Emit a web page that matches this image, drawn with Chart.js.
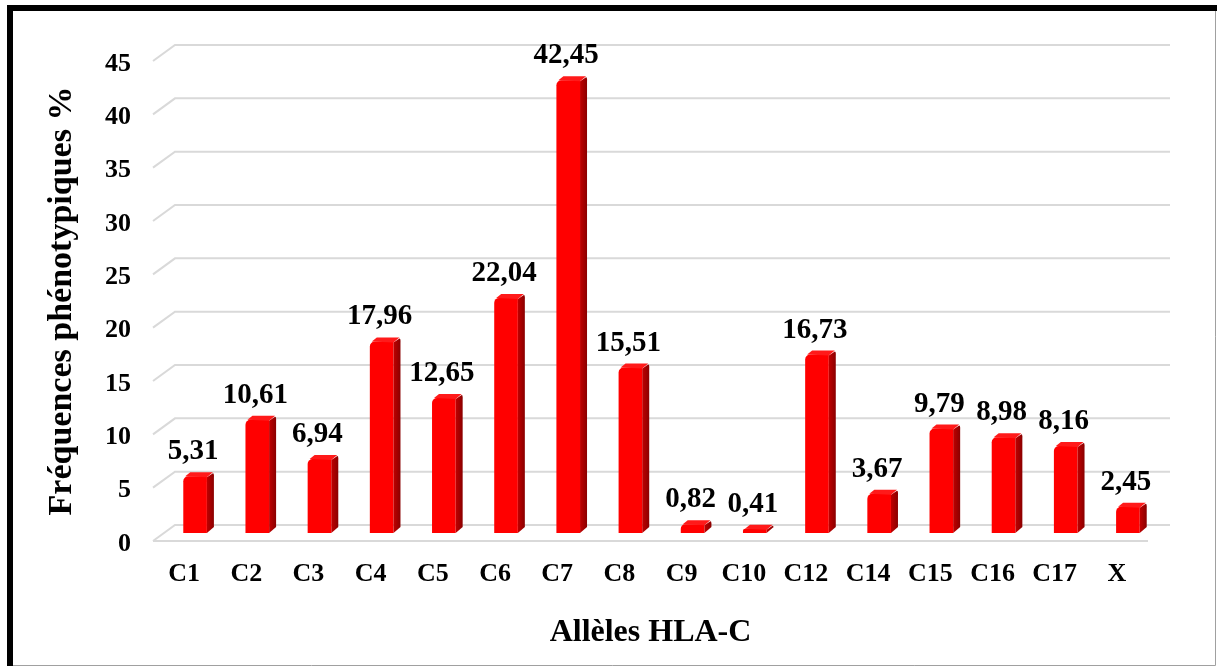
<!DOCTYPE html>
<html>
<head>
<meta charset="utf-8">
<script src="https://cdn.jsdelivr.net/npm/chart.js@4.4.0/dist/chart.umd.min.js"></script>
<style>
    html, body { margin: 0; padding: 0; background: #ffffff; }
    #chart { display: block; }
</style>
</head>
<body>
<canvas id="chart" width="1217" height="668"></canvas>
<script>
// data
const alleles = ["C1", "C2", "C3", "C4", "C5", "C6", "C7", "C8", "C9", "C10", "C12", "C14", "C15", "C16", "C17", "X"];
const frequences = [5.31, 10.61, 6.94, 17.96, 12.65, 22.04, 42.45, 15.51, 0.82, 0.41, 16.73, 3.67, 9.79, 8.98, 8.16, 2.45];
const yTicks = [0, 5, 10, 15, 20, 25, 30, 35, 40, 45];

const FONT = "'Liberation Serif', 'Times New Roman', serif";

// 3D look: back wall is shifted from the front plane
const DEPTH_X = 22, DEPTH_Y = -16;
const BAR_DX = 11, BAR_DY = -8;     // bars stand in the middle
const SIDE_X = 7, SIDE_Y = -4;      // thickness of each bar

// frame, white background, 3D grid
const backdrop = {
    id: "backdrop",
    beforeDraw(chart) {
        let ctx = chart.ctx;
        ctx.save();
        ctx.fillStyle = "#ffffff";
        ctx.fillRect(0, 0, chart.width, chart.height);

        // thin gray right/bottom edges
        ctx.strokeStyle = "#a0a0a0";
        ctx.lineWidth = 1;
        ctx.beginPath();
        ctx.moveTo(1215.5, 8);
        ctx.lineTo(1215.5, 665.5);
        ctx.lineTo(10, 665.5);
        ctx.stroke();
        // thick black left/top edges
        ctx.fillStyle = "#000000";
        ctx.fillRect(7, 5, 1210, 6);
        ctx.fillRect(7, 5, 6, 661);

        // gridlines (back wall + slanted side wall)
        let y = chart.scales.y;
        let left = chart.chartArea.left, right = chart.chartArea.right;
        ctx.strokeStyle = "#d9d9d9";
        ctx.lineWidth = 2;
        yTicks.forEach(v => {
            let py = y.getPixelForValue(v);
            ctx.beginPath();
            ctx.moveTo(left, py);
            ctx.lineTo(left + DEPTH_X, py + DEPTH_Y);
            ctx.lineTo(right + DEPTH_X, py + DEPTH_Y);
            ctx.stroke();
        });
        // floor front edge
        let p0 = y.getPixelForValue(0);
        ctx.beginPath();
        ctx.moveTo(left, p0);
        ctx.lineTo(right, p0);
        ctx.stroke();
        ctx.restore();
    },
    // shift bars to the middle depth
    beforeDatasetsDraw(chart) {
        chart.ctx.save();
        chart.ctx.translate(BAR_DX, BAR_DY);
    },
    afterDatasetsDraw(chart) {
        let ctx = chart.ctx;
        let meta = chart.getDatasetMeta(0);
        meta.data.forEach((bar, i) => {
            let half = bar.width / 2;
            let r = bar.x + half, l = bar.x - half, t = bar.y, b = bar.base;
            // side face
            let grad = ctx.createLinearGradient(r, 0, r + SIDE_X, 0);
            grad.addColorStop(0, "#c00000");
            grad.addColorStop(1, "#8a0000");
            ctx.fillStyle = grad;
            ctx.beginPath();
            ctx.moveTo(r, t + 1);
            ctx.lineTo(r + SIDE_X - 1, t + SIDE_Y + 1);
            ctx.quadraticCurveTo(r + SIDE_X, t + SIDE_Y + 1, r + SIDE_X, t + SIDE_Y + 3);
            ctx.lineTo(r + SIDE_X, b + SIDE_Y - 2);
            ctx.lineTo(r, b);
            ctx.closePath();
            ctx.fill();
            // top face
            ctx.fillStyle = "#ff1a1a";
            ctx.beginPath();
            ctx.moveTo(l + 2, t);
            ctx.lineTo(l + SIDE_X, t + SIDE_Y);
            ctx.lineTo(r + SIDE_X - 1, t + SIDE_Y);
            ctx.lineTo(r, t + 1);
            ctx.closePath();
            ctx.fill();
        });
        ctx.restore();

        // value labels above the bars
        ctx.save();
        ctx.font = "bold 29px " + FONT;
        ctx.fillStyle = "#000000";
        ctx.textAlign = "center";
        ctx.textBaseline = "alphabetic";
        meta.data.forEach((bar, i) => {
            let txt = frequences[i].toFixed(2).replace(".", ",");
            ctx.fillText(txt, bar.x + BAR_DX - 2, bar.y + BAR_DY + SIDE_Y - 13);
        });
        ctx.restore();
    }
};

document.addEventListener("DOMContentLoaded", () => {
    let context = document.getElementById("chart").getContext("2d");
    new Chart(context, {
        type: "bar",
        data: {
            labels: alleles,
            datasets: [{
                data: frequences,
                backgroundColor: "#ff0000",
                borderWidth: 0,
                borderRadius: { topLeft: 5, topRight: 0, bottomLeft: 0, bottomRight: 0 },
                borderSkipped: false,
                barPercentage: 0.38,
                categoryPercentage: 1
            }]
        },
        options: {
            responsive: false,
            animation: false,
            layout: { padding: { left: 0, right: 69, top: 61, bottom: 0 } },
            plugins: {
                legend: { display: false },
                tooltip: { enabled: false }
            },
            scales: {
                x: {
                    grid: { display: false, drawTicks: false },
                    border: { display: false },
                    ticks: {
                        color: "#000000",
                        font: { family: FONT, size: 26, weight: "bold" },
                        padding: 18,
                        maxRotation: 0
                    },
                    title: {
                        display: true,
                        text: "Allèles HLA-C",
                        color: "#000000",
                        font: { family: FONT, size: 32, weight: "bold" },
                        padding: { top: 0, bottom: 16 }
                    },
                    afterFit: (scale) => { scale.height = 127; }
                },
                y: {
                    min: 0,
                    max: 45,
                    grid: { display: false, drawTicks: false },
                    border: { display: false },
                    afterBuildTicks: (scale) => { scale.ticks = yTicks.map(v => ({ value: v })); },
                    ticks: {
                        color: "#000000",
                        font: { family: FONT, size: 26, weight: "bold" },
                        padding: 22,
                        labelOffset: 3
                    },
                    title: {
                        display: true,
                        text: "Fréquences phénotypiques %",
                        color: "#000000",
                        font: { family: FONT, size: 34, weight: "bold" },
                        padding: { top: 42, bottom: 0 }
                    },
                    afterFit: (scale) => { scale.width = 153; }
                }
            }
        },
        plugins: [backdrop]
    });
});
</script>
</body>
</html>
